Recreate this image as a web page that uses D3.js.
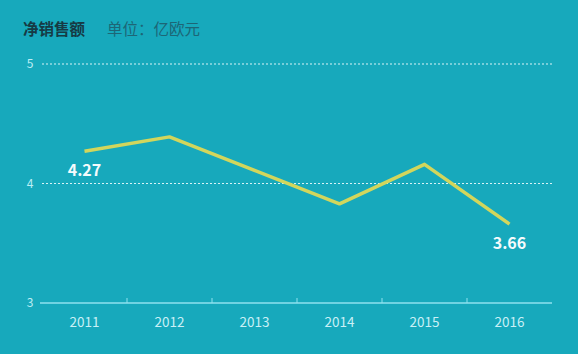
<!DOCTYPE html>
<html>
<head>
<meta charset="utf-8">
<script src="https://cdn.jsdelivr.net/npm/d3@7"></script>
<style>
  html, body { margin: 0; padding: 0; background: #17a9bc; }
  svg { display: block; font-family: "Noto Sans CJK SC", "Noto Sans", sans-serif; }
</style>
</head>
<body>
<div id="chart"></div>
<script>
const years = ["2011", "2012", "2013", "2014", "2015", "2016"];
const sales = [4.27, 4.39, 4.11, 3.83, 4.16, 3.66];
const yTicks = [3, 4, 5];
const labelled = [{ year: "2011", text: "4.27" }, { year: "2016", text: "3.66" }];

const width = 578, height = 354;
const margin = { top: 64, right: 26, bottom: 51, left: 42 };

const svg = d3.select("#chart").append("svg")
    .attr("width", width)
    .attr("height", height);

svg.append("rect")
    .attr("width", width).attr("height", height)
    .attr("fill", "#17a9bc");

// title
const title = svg.append("text")
    .attr("x", 23).attr("y", 35)
    .attr("font-size", 15.5);
title.append("tspan")
    .attr("font-weight", "bold")
    .attr("fill", "#163a44")
    .text("净销售额");
title.append("tspan")
    .attr("dx", 22)
    .attr("fill", "#1d6676")
    .text("单位：亿欧元");

const x = d3.scaleBand()
    .domain(years)
    .range([margin.left, width - margin.right]);

const y = d3.scaleLinear()
    .domain([3, 5])
    .range([height - margin.bottom, margin.top]);

// dashed gridlines
svg.append("g")
    .selectAll("line")
    .data(yTicks.filter(d => d > 3))
    .join("line")
    .attr("x1", margin.left).attr("x2", width - margin.right)
    .attr("y1", d => y(d)).attr("y2", d => y(d))
    .attr("stroke", "#d8f3f7")
    .attr("stroke-width", 1)
    .attr("stroke-dasharray", "2,2");

// y labels
svg.append("g")
    .selectAll("text")
    .data(yTicks)
    .join("text")
    .attr("x", 30).attr("y", d => y(d))
    .attr("dy", "0.35em")
    .attr("text-anchor", "middle")
    .attr("font-size", 12)
    .attr("fill", "#bdeef5")
    .text(d => d);

// x axis
svg.append("line")
    .attr("x1", margin.left - 2).attr("x2", width - margin.right)
    .attr("y1", y(3)).attr("y2", y(3))
    .attr("stroke", "#8fe2ef")
    .attr("stroke-width", 1.5);

svg.append("g")
    .selectAll("line")
    .data(years.slice(1))
    .join("line")
    .attr("x1", d => x(d)).attr("x2", d => x(d))
    .attr("y1", y(3)).attr("y2", y(3) - 5)
    .attr("stroke", "#8fe2ef")
    .attr("stroke-width", 1);

svg.append("g")
    .selectAll("text")
    .data(years)
    .join("text")
    .attr("x", d => x(d) + x.bandwidth() / 2)
    .attr("y", y(3) + 24)
    .attr("text-anchor", "middle")
    .attr("font-size", 13.5)
    .attr("fill", "#c9f0f6")
    .text(d => d);

// line
const line = d3.line()
    .x((d, i) => x(years[i]) + x.bandwidth() / 2)
    .y(d => y(d));

svg.append("path")
    .datum(sales)
    .attr("d", line)
    .attr("fill", "none")
    .attr("stroke", "#d2d65c")
    .attr("stroke-width", 3.5)
    .attr("stroke-linejoin", "round");

// value labels
svg.append("g")
    .selectAll("text")
    .data(labelled)
    .join("text")
    .attr("x", d => x(d.year) + x.bandwidth() / 2)
    .attr("y", d => y(sales[years.indexOf(d.year)]) + 25)
    .attr("text-anchor", "middle")
    .attr("font-size", 16)
    .attr("font-weight", "bold")
    .attr("fill", "#f4fbfc")
    .text(d => d.text);
</script>
</body>
</html>
